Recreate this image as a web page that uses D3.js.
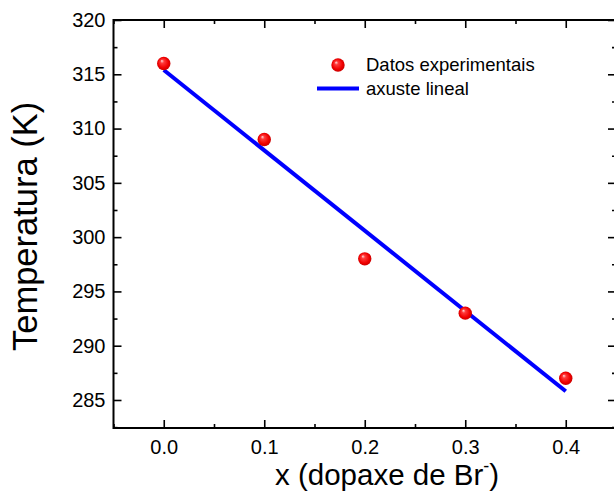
<!DOCTYPE html>
<html>
<head>
<meta charset="utf-8">
<script src="https://cdn.jsdelivr.net/npm/d3@7/dist/d3.min.js"></script>
<style>
  html,body{margin:0;padding:0;background:#fff;}
  svg{display:block;font-family:"Liberation Sans",Arial,sans-serif;}
  .ax line{stroke:#000;stroke-width:1.6;}
  .ax text{font-size:20px;fill:#000;}
</style>
</head>
<body>
<svg id="chart" width="614" height="492"></svg>
<script>
// ── data ──
const xVals=[0.0,0.1,0.2,0.3,0.4];
const tempK=[316,309,298,293,287];
// fitted line endpoints (as drawn)
const fitX=[0.0,0.4];
const fitY=[315.4,285.8];
const xTicks=[0.0,0.1,0.2,0.3,0.4];
const yTicks=[285,290,295,300,305,310,315,320];
const legendLabels=["Datos experimentais","axuste lineal"];

const svg=d3.select("#chart");
const L=113.5,R=616,T=20,B=428;
const x=d3.scaleLinear().domain([-0.05,0.45]).range([L,R]);
const y=d3.scaleLinear().domain([282.42,320]).range([B,T]);

// sphere gradient for markers
const defs=svg.append("defs");
const gr=defs.append("radialGradient").attr("id","ball").attr("cx","50%").attr("cy","50%").attr("r","55%").attr("fx","35%").attr("fy","30%");
gr.append("stop").attr("offset","0%").attr("stop-color","#ffe0e0");
gr.append("stop").attr("offset","25%").attr("stop-color","#ff3a3a");
gr.append("stop").attr("offset","70%").attr("stop-color","#f00000");
gr.append("stop").attr("offset","100%").attr("stop-color","#c00000");

const xMinor=d3.range(-0.05,0.451,0.05).filter(v=>!xTicks.some(t=>Math.abs(t-v)<1e-6));
const yMinor=d3.range(282.5,320,2.5).filter(v=>!yTicks.some(t=>Math.abs(t-v)<1e-6));

// ── ticks, all pointing inward ──
const axes=[
  [d3.axisBottom(x).tickValues(xMinor).tickSize(-4).tickFormat(""),`translate(0,${B})`],
  [d3.axisTop(x).tickValues(xMinor).tickSize(-4).tickFormat(""),`translate(0,${T})`],
  [d3.axisLeft(y).tickValues(yMinor).tickSize(-4).tickFormat(""),`translate(${L},0)`],
  [d3.axisRight(y).tickValues(yMinor).tickSize(-4).tickFormat(""),`translate(${R},0)`],
  [d3.axisBottom(x).tickValues(xTicks).tickSize(-8).tickPadding(12).tickFormat(d3.format(".1f")),`translate(0,${B})`],
  [d3.axisTop(x).tickValues(xTicks).tickSize(-8).tickFormat(""),`translate(0,${T})`],
  [d3.axisLeft(y).tickValues(yTicks).tickSize(-8).tickPadding(8).tickFormat(d3.format("d")),`translate(${L},0)`],
  [d3.axisRight(y).tickValues(yTicks).tickSize(-8).tickFormat(""),`translate(${R},0)`],
];
axes.forEach(([ax,tr])=>svg.append("g").attr("class","ax").attr("transform",tr).call(ax));
svg.selectAll(".ax .domain").remove();
svg.append("rect").attr("x",L).attr("y",T).attr("width",R-L).attr("height",B-T)
  .attr("fill","none").attr("stroke","#000").attr("stroke-width",2);

// fit line
const fit=fitX.map((v,i)=>[v,fitY[i]]);
svg.append("path").datum(fit)
  .attr("d",d3.line().x(d=>x(d[0])).y(d=>y(d[1])))
  .attr("fill","none").attr("stroke","#0000ff").attr("stroke-width",4);

// data points
svg.append("g").selectAll("circle").data(xVals.map((v,i)=>[v,tempK[i]])).join("circle")
  .attr("cx",d=>x(d[0])).attr("cy",d=>y(d[1])).attr("r",6.7).attr("fill","url(#ball)");

// legend
const lg=svg.append("g").style("font-size","18.5px");
lg.append("circle").attr("cx",338).attr("cy",65).attr("r",6.7).attr("fill","url(#ball)");
lg.append("text").attr("x",366).attr("y",71).text(legendLabels[0]);
lg.append("line").attr("x1",317).attr("x2",359).attr("y1",88.5).attr("y2",88.5).attr("stroke","#0000ff").attr("stroke-width",4);
lg.append("text").attr("x",366).attr("y",94.5).text(legendLabels[1]);

// axis titles
svg.append("text").attr("transform","translate(37,351) rotate(-90)")
  .style("font-size","34.5px").text("Temperatura (K)");
const xt=svg.append("text").attr("x",275).attr("y",485).style("font-size","29.5px");
xt.append("tspan").text("x (dopaxe de Br");
xt.append("tspan").attr("dy",-13).style("font-size","18px").text("-");
xt.append("tspan").attr("dy",13).text(")");
</script>
</body>
</html>
